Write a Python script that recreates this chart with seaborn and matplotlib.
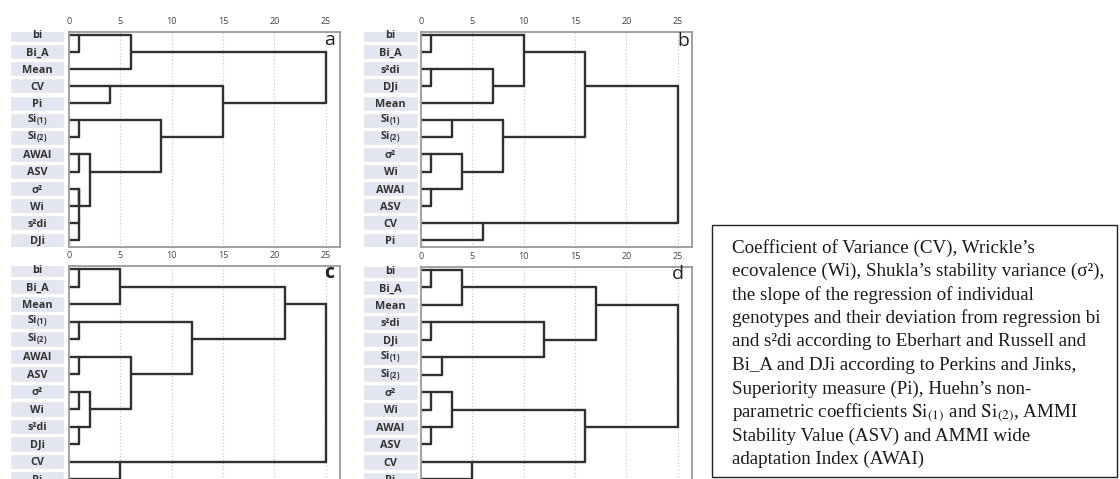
import numpy as np
import pandas as pd
import matplotlib
matplotlib.use("Agg")
import matplotlib.pyplot as plt
import seaborn as sns
from matplotlib.patches import Rectangle

# ---------------- data ----------------
leaves_a = ["bi", "Bi_A", "Mean", "CV", "Pi", "Si(1)", "Si(2)", "AWAI", "ASV", "σ²", "Wi", "s²di", "DJi"]
merges_a = [(0, 1, 1), (13, 2, 6), (3, 4, 4), (5, 6, 1), (7, 8, 1), (9, 10, 1), (11, 12, 1),
            (18, 19, 1), (17, 20, 2), (16, 21, 9), (15, 22, 15), (14, 23, 25)]

leaves_b = ["bi", "Bi_A", "s²di", "DJi", "Mean", "Si(1)", "Si(2)", "σ²", "Wi", "AWAI", "ASV", "CV", "Pi"]
merges_b = [(0, 1, 1), (2, 3, 1), (14, 4, 7), (13, 15, 10), (5, 6, 3), (7, 8, 1), (9, 10, 1),
            (18, 19, 4), (17, 20, 8), (16, 21, 16), (11, 12, 6), (22, 23, 25)]

leaves_c = ["bi", "Bi_A", "Mean", "Si(1)", "Si(2)", "AWAI", "ASV", "σ²", "Wi", "s²di", "DJi", "CV", "Pi"]
merges_c = [(0, 1, 1), (13, 2, 5), (3, 4, 1), (5, 6, 1), (7, 8, 1), (9, 10, 1), (17, 18, 2),
            (16, 19, 6), (15, 20, 12), (14, 21, 21), (11, 12, 5), (22, 23, 25)]

leaves_d = ["bi", "Bi_A", "Mean", "s²di", "DJi", "Si(1)", "Si(2)", "σ²", "Wi", "AWAI", "ASV", "CV", "Pi"]
merges_d = [(0, 1, 1), (13, 2, 4), (3, 4, 1), (5, 6, 2), (15, 16, 12), (14, 17, 17), (7, 8, 1),
            (9, 10, 1), (19, 20, 3), (11, 12, 5), (21, 22, 16), (18, 23, 25)]

tick_values = [0, 5, 10, 15, 20, 25]
panel_letters = ["a", "b", "c", "d"]

note_lines = [
    "Coefficient of Variance (CV), Wrickle’s",
    "ecovalence (Wi), Shukla’s stability variance (σ²),",
    "the slope of the regression of individual",
    "genotypes and their deviation from regression bi",
    "and s²di according to Eberhart and Russell and",
    "Bi_A and DJi according to Perkins and Jinks,",
    "Superiority measure (Pi), Huehn’s non-",
    r"parametric coefficients $\mathrm{Si}_{(1)}$ and $\mathrm{Si}_{(2)}$, AMMI",
    "Stability Value (ASV) and AMMI wide",
    "adaptation Index (AWAI)",
]

# ---------------- style ----------------
sns.set_style("white")
plt.rcParams["font.family"] = ["Open Sans", "DejaVu Sans"]
plt.rcParams.update({
    "mathtext.fontset": "custom",
    "mathtext.rm": "Open Sans",
    "mathtext.bf": "Open Sans:bold",
    "mathtext.it": "Open Sans:italic",
})

W, H = 1120, 479
fig = plt.figure(figsize=(W / 100, H / 100), dpi=100)

LINE_C = "#303030"
FRAME_C = "#9a9a9a"
LAV = "#e3e6f0"
XMAX = 26.36
YBOT = 12.42


def seg_frame(merges, n):
    row = list(range(n))
    hgt = [0.0] * n
    recs = []
    sid = 0
    for a, b, h in merges:
        for c in (a, b):
            recs += [(sid, hgt[c], row[c]), (sid, h, row[c])]
            sid += 1
        recs += [(sid, h, row[a]), (sid, h, row[b])]
        sid += 1
        row.append((row[a] + row[b]) // 2)
        hgt.append(h)
    return pd.DataFrame(recs, columns=["seg", "x", "y"])


def disp(name):
    if name.startswith("Si("):
        return r"$\mathbf{Si_{(%s)}}$" % name[3]
    return name


def panel(leaves, merges, letter, x0, top, row0, step, lab_l, lab_r, letter_xy, letter_bold=False):
    scale = 10.27
    right = x0 + XMAX * scale
    ytop = -(row0 - top) / step
    bottom = row0 + YBOT * step
    rect = [x0 / W, 1 - bottom / H, (right - x0) / W, (bottom - top) / H]
    ax = fig.add_axes(rect)
    df = seg_frame(merges, len(leaves))
    sns.lineplot(data=df, x="x", y="y", units="seg", estimator=None, sort=False,
                 color=LINE_C, lw=1.7, ax=ax, legend=False)
    ax.set_xlim(0, XMAX)
    ax.set_ylim(YBOT, ytop)
    ax.set_xlabel("")
    ax.set_ylabel("")
    ax.set_yticks([])
    ax.xaxis.tick_top()
    ax.set_xticks(tick_values)
    ax.set_xticklabels([str(v) for v in tick_values])
    ax.tick_params(axis="x", length=0, pad=4, labelsize=6.5, labelcolor="#444444")
    ax.grid(True, axis="x", ls=(0, (1, 2)), color="#c4c4c4", lw=0.8)
    ax.set_axisbelow(True)
    for s in ax.spines.values():
        s.set_color(FRAME_C)
        s.set_linewidth(1.3)
    ax.set_facecolor("white")

    lab = fig.add_axes([lab_l / W, rect[1], (lab_r - lab_l) / W, rect[3]])
    lab.barh(np.arange(len(leaves)), 1, height=0.88, color=LAV, left=0)
    lab.set_xlim(0, 1)
    lab.set_ylim(YBOT, ytop)
    lab.axis("off")
    for i, name in enumerate(leaves):
        lab.text(0.5, i + 0.08, disp(name), ha="center", va="center", fontsize=7.8,
                 fontweight="bold", color="#333333")

    fig.text(letter_xy[0] / W, 1 - letter_xy[1] / H, letter, ha="center", va="center",
             fontsize=14, color="#222222", fontweight="bold" if letter_bold else "normal")


panel(leaves_a, merges_a, panel_letters[0], 69, 31.7, 34.6, 17.12, 10, 64, (330, 40))
panel(leaves_b, merges_b, panel_letters[1], 421, 31.7, 34.6, 17.12, 363, 418, (683, 41))
panel(leaves_c, merges_c, panel_letters[2], 69, 266, 269, 17.5, 10, 64, (329, 273), True)
panel(leaves_d, merges_d, panel_letters[3], 421, 266.5, 270, 17.45, 363, 418, (678, 274))

# ---------------- note box ----------------
fig.add_artist(Rectangle((712 / W, 1 - 477 / H), (1117 - 712) / W, (477 - 225) / H,
                         transform=fig.transFigure, fill=False, ec="#222222", lw=1.0))
for k, line in enumerate(note_lines):
    fig.text(732 / W, 1 - (252.5 + 23.5 * k) / H, line, fontsize=13.7,
             family=["Liberation Serif", "DejaVu Serif"], va="baseline", ha="left",
             color="#1a1a1a", math_fontfamily="stix")

fig.savefig("out.png", dpi=100)
